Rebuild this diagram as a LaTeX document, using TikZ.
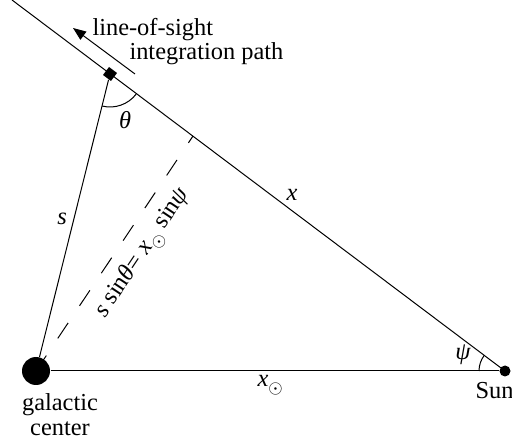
\documentclass[tikz,border=0pt]{standalone}
\usepackage{amsmath}
\usepackage{fontspec}
\setmainfont{Liberation Serif}
\usetikzlibrary{arrows.meta}
\newcommand{\sunsub}{\raisebox{-3.2pt}{\fontsize{9}{9}\selectfont$\odot$}}

\begin{document}
\begin{tikzpicture}[x=0.5pt, y=0.5pt, font=\fontsize{12.2}{12.5}\selectfont, line width=0.5pt,
  blob/.style={circle, fill, inner sep=0pt},
  txt/.style={inner sep=0pt}]
\useasboundingbox (0,0) rectangle (512,443);
\node[blob, minimum size=14pt] (gc) at (36,72) {};
\node[blob, minimum size=5.5pt] (sun) at (505,72) {};
\node[rectangle, fill, minimum size=5pt, inner sep=0pt, rotate=-37] (los) at (110,369) {};
\coordinate (far) at (12,443);
\coordinate (foot) at (193,307);
\coordinate (arrtail) at (135,369);
\coordinate (arrhead) at (73,415);
\draw (sun.center) -- (far);
\draw (gc) -- (sun);
\draw (gc) -- (los);
\draw[dash pattern=on 9.3pt off 10.3pt] (gc.center) -- (foot);
\node[txt, rotate=56.25] (eq) at (143.5,189.5) {\textit{s} sin\textit{θ}= \textit{x}\sunsub\ sin\textit{ψ}};
\draw[-{Triangle[length=6.5pt,width=5pt]}] (arrtail) -- (arrhead);
\draw (los.center) ++(-104:33) arc[start angle=-104, end angle=-37, radius=33];
\draw (sun.center) ++(143:26) arc[start angle=143, end angle=180, radius=26];
\node[txt, anchor=base west] (lostop) at (92,407) {line-of-sight};
\node[txt, anchor=base west] (losbot) at (129,383) {integration path};
\node[txt, align=center, anchor=north] (gclab) at (60,50) {galactic\\center};
\node[txt, anchor=base west] (sunlab) at (475,45) {Sun};
\node (slab) at (62,224) {\textit{s}};
\node (xlab) at (292,248) {\textit{x}};
\node[txt, anchor=base west] (xsunlab) at (257,56) {\textit{x}\sunsub};
\node (thetalab) at (125,323) {\textit{θ}};
\node (psilab) at (463,88) {\textit{ψ}};
\end{tikzpicture}
\end{document}
